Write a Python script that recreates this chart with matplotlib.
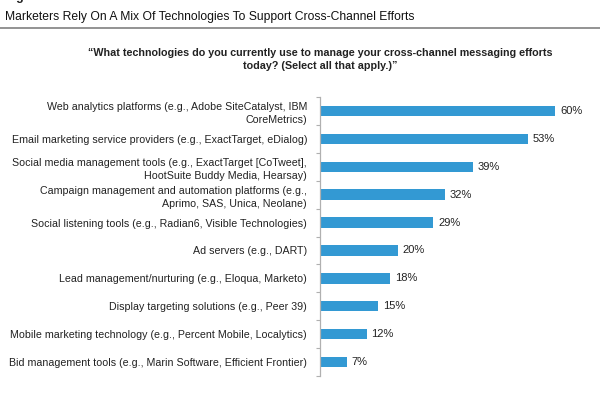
import matplotlib
matplotlib.use("Agg")
import matplotlib.pyplot as plt

categories = [
    "Web analytics platforms (e.g., Adobe SiteCatalyst, IBM\nCoreMetrics)",
    "Email marketing service providers (e.g., ExactTarget, eDialog)",
    "Social media management tools (e.g., ExactTarget [CoTweet],\nHootSuite Buddy Media, Hearsay)",
    "Campaign management and automation platforms (e.g.,\nAprimo, SAS, Unica, Neolane)",
    "Social listening tools (e.g., Radian6, Visible Technologies)",
    "Ad servers (e.g., DART)",
    "Lead management/nurturing (e.g., Eloqua, Marketo)",
    "Display targeting solutions (e.g., Peer 39)",
    "Mobile marketing technology (e.g., Percent Mobile, Localytics)",
    "Bid management tools (e.g., Marin Software, Efficient Frontier)",
]
values = [60, 53, 39, 32, 29, 20, 18, 15, 12, 7]
value_labels = [f"{v}%" for v in values]

title = "Marketers Rely On A Mix Of Technologies To Support Cross-Channel Efforts"
question = ("\u201cWhat technologies do you currently use to manage your cross-channel messaging efforts\n"
            "today? (Select all that apply.)\u201d")

plt.rcParams["font.family"] = ["Liberation Sans", "DejaVu Sans"]

W, H = 600, 397
fig = plt.figure(figsize=(W / 100, H / 100), dpi=100)
fig.patch.set_facecolor("white")

ax_left = 319.5 / W
ax_top = 97 / H
ax_bot = 376 / H
xmax = 70
px_per_pct = 3.93
ax_w = xmax * px_per_pct / W
ax = fig.add_axes([ax_left, 1 - ax_bot, ax_w, ax_bot - ax_top])

bar_color = "#3399D3"
y = list(range(len(values)))
ax.barh(y, values, height=0.37, color=bar_color, edgecolor="none")
ax.set_ylim(len(values) - 0.5, -0.5)
ax.set_xlim(0, xmax)

for yi, v, lab in zip(y, values, value_labels):
    ax.text(v + 1.2, yi, lab, va="center", ha="left", fontsize=8.0, color="#222222")

ax.set_yticks(y)
ax.set_yticklabels(categories, fontsize=7.65, color="#222222", linespacing=1.4)
ax.set_yticks([i + 0.5 for i in range(-1, len(values))], minor=True)
ax.tick_params(axis="y", which="major", length=0, pad=9)
ax.tick_params(axis="y", which="minor", length=3, width=0.8, color="#b0b0b0")
ax.set_xticks([])
for s in ["top", "right", "bottom"]:
    ax.spines[s].set_visible(False)
ax.spines["left"].set_color("#b0b0b0")
ax.spines["left"].set_linewidth(0.9)

# header
fig.text(5 / W, 1 - 0 / H, "Figure 1", fontsize=9, fontweight="bold",
         ha="left", va="baseline", color="#222222")
fig.text(5 / W, 1 - 20 / H, title, fontsize=8.7,
         ha="left", va="baseline", color="#111111")
fig.add_artist(plt.Line2D([0, 1], [1 - 27.5 / H, 1 - 27.5 / H], color="#8a8a8a", linewidth=1.3))
fig.text(320 / W, 1 - 59.5 / H, question, fontsize=7.75, fontweight="bold",
         ha="center", va="center", color="#222222", linespacing=1.3)

fig.savefig("out.png", dpi=100, facecolor="white")
